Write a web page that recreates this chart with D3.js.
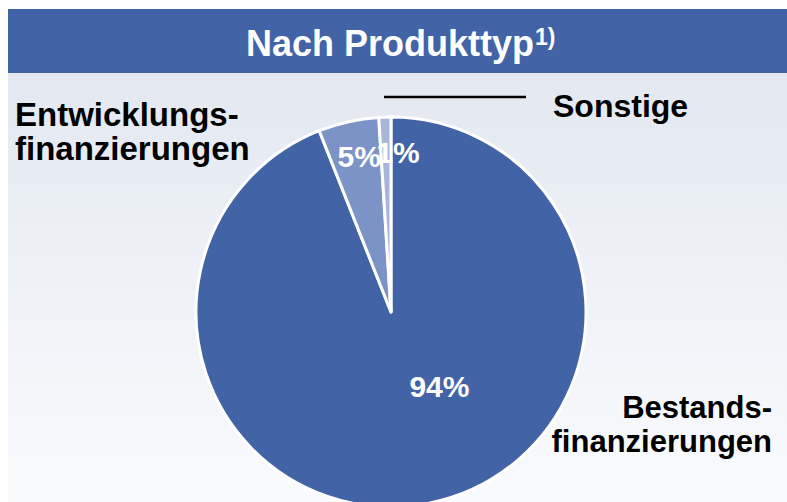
<!DOCTYPE html>
<html>
<head>
<meta charset="utf-8">
<script src="https://cdn.jsdelivr.net/npm/d3@7"></script>
<style>
  body { margin: 0; background: #fff; }
  text { font-family: "Liberation Sans", Arial, sans-serif; font-weight: bold; }
</style>
</head>
<body>
<script>
var W = 787, H = 502;

// data
var categories = ["Bestandsfinanzierungen", "Entwicklungsfinanzierungen", "Sonstige"];
var shares = [94, 5, 1];
var valueLabels = ["94%", "5%", "1%"];
var sliceColors = ["#4263a6", "#7b93c6", "#a7b6d9"];

var svg = d3.select("body").append("svg")
  .attr("width", W)
  .attr("height", H);

var defs = svg.append("defs");
var grad = defs.append("linearGradient")
  .attr("id", "bg").attr("x1", 0).attr("y1", 0).attr("x2", 0).attr("y2", 1);
grad.append("stop").attr("offset", "0%").attr("stop-color", "#e3e8f1");
grad.append("stop").attr("offset", "100%").attr("stop-color", "#fafbfd");

// panel background + header
svg.append("rect").attr("x", 8).attr("y", 73).attr("width", W - 8).attr("height", H - 73)
  .attr("fill", "url(#bg)");
svg.append("rect").attr("x", 8).attr("y", 9).attr("width", W - 8).attr("height", 64)
  .attr("fill", "#4263a6");

var title = svg.append("text")
  .attr("x", 246).attr("y", 56)
  .attr("fill", "#fff")
  .style("font-size", "36px");
title.append("tspan").text("Nach Produkttyp");
title.append("tspan").attr("dx", 1).attr("dy", -11).style("font-size", "23px").text("1)");

// pie
var cx = 391, cy = 312, r = 195;
var pie = d3.pie().sort(null).value(function(d) { return d; });
var arc = d3.arc().innerRadius(0).outerRadius(r);
var arcs = pie(shares);

var g = svg.append("g").attr("transform", "translate(" + cx + "," + cy + ")");

g.selectAll("path")
  .data(arcs)
  .enter().append("path")
  .attr("d", arc)
  .attr("fill", function(d, i) { return sliceColors[i]; })
  .attr("stroke", "#fff")
  .attr("stroke-width", 3)
  .attr("stroke-linejoin", "round");

// value labels inside slices
var labelPos = [
  d3.arc().innerRadius(r * 0.45).outerRadius(r * 0.45),
  d3.arc().innerRadius(r * 0.82).outerRadius(r * 0.82),
  d3.arc().innerRadius(r * 0.82).outerRadius(r * 0.82)
];
var labelShift = [[32, -12], [3, 0], [12, 0]];
g.selectAll("text.val")
  .data(arcs)
  .enter().append("text")
  .attr("class", "val")
  .attr("transform", function(d, i) {
    var c = labelPos[i].centroid(d);
    return "translate(" + (c[0] + labelShift[i][0]) + "," + (c[1] + labelShift[i][1]) + ")";
  })
  .attr("text-anchor", "middle")
  .attr("dy", "0.36em")
  .attr("fill", "#fff")
  .style("font-size", "30px")
  .text(function(d, i) { return valueLabels[i]; });

// leader line for Sonstige
svg.append("line")
  .attr("x1", 384).attr("x2", 526).attr("y1", 97).attr("y2", 97)
  .attr("stroke", "#000").attr("stroke-width", 2.5);

// category labels
function label(lines, x, y, anchor, size) {
  var t = svg.append("text")
    .attr("x", x).attr("y", y)
    .attr("text-anchor", anchor)
    .attr("fill", "#000")
    .style("font-size", size + "px");
  lines.forEach(function(s, i) {
    t.append("tspan").attr("x", x).attr("dy", i === 0 ? 0 : 34).text(s);
  });
}
label(["Entwicklungs-", "finanzierungen"], 15, 126, "start", 33);
label(["Sonstige"], 553, 117, "start", 32);
label(["Bestands-", "finanzierungen"], 772, 418, "end", 31);
</script>
</body>
</html>
